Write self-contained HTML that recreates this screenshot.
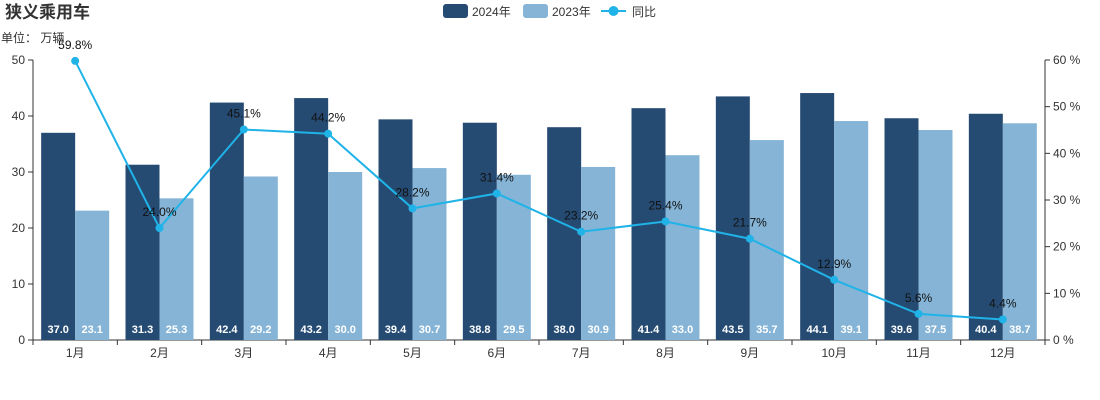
<!DOCTYPE html>
<html><head><meta charset="utf-8"><style>
body{margin:0;background:#fff;}
svg{display:block;font-family:"Liberation Sans","Noto Sans CJK SC",sans-serif;}
</style></head><body>
<svg id="c" width="1100" height="400">
<text x="5" y="18" font-size="17" font-weight="bold" fill="#333">狭义乘用车</text>
<text x="1" y="42" font-size="12" fill="#333">单位：&#160;万辆</text>
<g>
<rect x="443" y="4" width="25" height="14" rx="3" fill="#264b73"/>
<text x="472" y="16" font-size="12" fill="#333">2024年</text>
<rect x="523" y="4" width="25" height="14" rx="3" fill="#85b4d6"/>
<text x="552" y="16" font-size="12" fill="#333">2023年</text>
<line x1="601" y1="11" x2="626" y2="11" stroke="#1fb3e8" stroke-width="2"/>
<circle cx="613.5" cy="11" r="5" fill="#1fb3e8"/>
<text x="632" y="16" font-size="12" fill="#333">同比</text>
</g>
</svg>
<script>
const categories=['1月','2月','3月','4月','5月','6月','7月','8月','9月','10月','11月','12月'];
const sales2024=[37.0,31.3,42.4,43.2,39.4,38.8,38.0,41.4,43.5,44.1,39.6,40.4];
const sales2023=[23.1,25.3,29.2,30.0,30.7,29.5,30.9,33.0,35.7,39.1,37.5,38.7];
const yoy=[59.8,24.0,45.1,44.2,28.2,31.4,23.2,25.4,21.7,12.9,5.6,4.4];
const leftTicks=[0,10,20,30,40,50];
const rightTicks=[0,10,20,30,40,50,60];

const svg=document.getElementById('c');
const NS='http://www.w3.org/2000/svg';
const X0=33,X1=1045,Y0=340,Y1=60;
const bw=(X1-X0)/categories.length;
const yL=v=>Y0-(v/50)*(Y0-Y1);
const yR=v=>Y0-(v/60)*(Y0-Y1);
const cx=i=>X0+bw*(i+0.5);
function mk(t,a,txt){const e=document.createElementNS(NS,t);for(const k in a)e.setAttribute(k,a[k]);if(txt!==undefined)e.textContent=txt;svg.appendChild(e);return e;}

let ax=mk('line',{x1:X0,y1:Y1,x2:X0,y2:Y0,stroke:'#333'});


leftTicks.forEach(v=>{
  const tk=mk('line',{x1:X0-5,y1:yL(v),x2:X0,y2:yL(v),stroke:'#333'});
  
  
  const t=mk('text',{x:X0-8,y:yL(v)+4,'font-size':12,fill:'#333','text-anchor':'end'},v);
  
  
});
let ar=mk('line',{x1:X1,y1:Y1,x2:X1,y2:Y0,stroke:'#333'});


rightTicks.forEach(v=>{
  const tk=mk('line',{x1:X1,y1:yR(v),x2:X1+5,y2:yR(v),stroke:'#333'});
  
  
  const t=mk('text',{x:X1+8,y:yR(v)+4,'font-size':12,fill:'#333'},v+' %');
  
  
});
let xa=mk('line',{x1:X0,y1:Y0,x2:X1,y2:Y0,stroke:'#333'});


for(let i=0;i<=categories.length;i++){
  const tk=mk('line',{x1:X0+bw*i,y1:Y0,x2:X0+bw*i,y2:Y0+5,stroke:'#333'});
  
  
}
const w=34;
categories.forEach((c,i)=>{
  const t=mk('text',{x:cx(i),y:Y0+17,'font-size':12,fill:'#333','text-anchor':'middle'},c);
  
  
  const b1=mk('rect',{x:cx(i)-w,y:yL(sales2024[i]),width:w,height:Y0-yL(sales2024[i]),fill:'#264b73'});
  
  
  const b2=mk('rect',{x:cx(i),y:yL(sales2023[i]),width:w,height:Y0-yL(sales2023[i]),fill:'#85b4d6'});
  
  
  const l1=mk('text',{x:cx(i)-w/2,y:Y0-7,'font-size':11,'font-weight':'bold',fill:'#fff','text-anchor':'middle'},sales2024[i].toFixed(1));
  
  
  const l2=mk('text',{x:cx(i)+w/2,y:Y0-7,'font-size':11,'font-weight':'bold',fill:'#fff','text-anchor':'middle'},sales2023[i].toFixed(1));
  
  
});
const pl=mk('polyline',{points:yoy.map((v,i)=>cx(i)+','+yR(v)).join(' '),fill:'none',stroke:'#1fb3e8','stroke-width':2});


yoy.forEach((v,i)=>{
  const p=mk('circle',{cx:cx(i),cy:yR(v),r:4,fill:'#1fb3e8'});
  
  
});
yoy.forEach((v,i)=>{
  const t=mk('text',{x:cx(i),y:yR(v)-12,'font-size':12,fill:'#111','text-anchor':'middle'},v.toFixed(1)+'%');
  
  
});
</script>
</body></html>
